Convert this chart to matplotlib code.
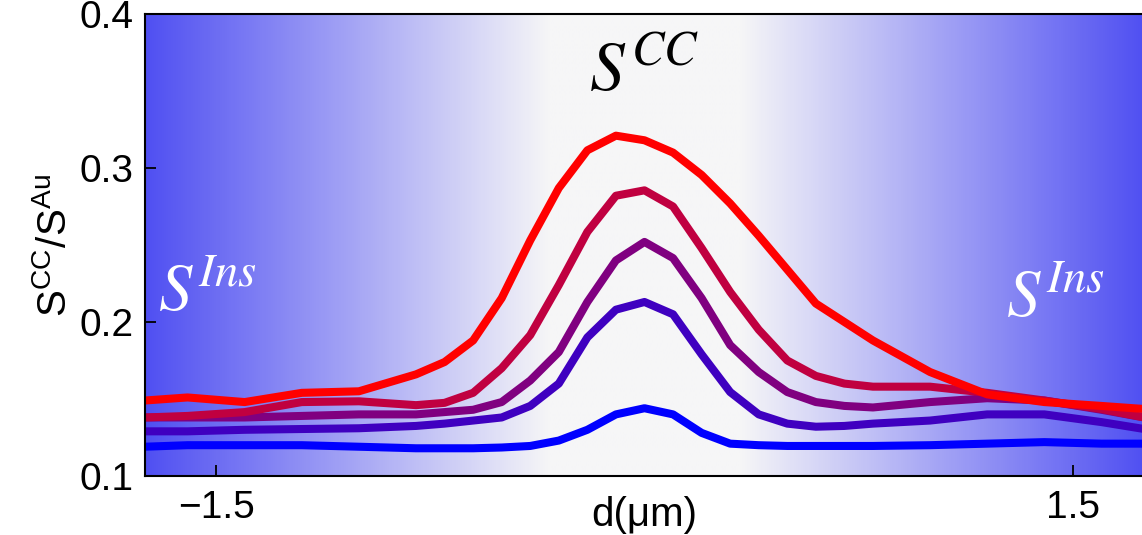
import matplotlib
matplotlib.use("Agg")
import matplotlib.pyplot as plt
import numpy as np
from matplotlib.colors import LinearSegmentedColormap

plt.rcParams['font.family'] = ['Liberation Sans', 'DejaVu Sans']
plt.rcParams['mathtext.fontset'] = 'custom'
plt.rcParams['mathtext.rm'] = 'STIXGeneral'
plt.rcParams['mathtext.it'] = 'STIXGeneral:italic'
plt.rcParams['mathtext.sf'] = 'Liberation Sans'

# position d (um)
d = [-1.75, -1.6, -1.4, -1.2, -1.0, -0.8, -0.7, -0.6, -0.5, -0.4, -0.3, -0.2, -0.1,
     0.0, 0.1, 0.2, 0.3, 0.4, 0.5, 0.6, 0.7, 0.8, 1.0, 1.2, 1.4, 1.6, 1.75]

# S^CC / S^Au, from lowest (blue) to highest (red)
s_blue = [0.119, 0.120, 0.120, 0.120, 0.119, 0.118, 0.118, 0.118, 0.1185, 0.1195, 0.123, 0.130, 0.140,
          0.144, 0.140, 0.128, 0.121, 0.120, 0.1195, 0.1195, 0.1195, 0.1195, 0.120, 0.121, 0.122, 0.121, 0.121]
s_indigo = [0.129, 0.129, 0.130, 0.1305, 0.131, 0.1325, 0.134, 0.136, 0.138, 0.1455, 0.160, 0.190, 0.208,
            0.213, 0.205, 0.179, 0.1545, 0.140, 0.134, 0.132, 0.1325, 0.134, 0.136, 0.140, 0.140, 0.135, 0.1305]
s_purple = [0.138, 0.138, 0.138, 0.139, 0.140, 0.140, 0.1415, 0.143, 0.148, 0.162, 0.1805, 0.213, 0.240,
            0.252, 0.2415, 0.2155, 0.185, 0.1675, 0.1545, 0.148, 0.1455, 0.1445, 0.148, 0.1505, 0.149, 0.143, 0.138]
s_crimson = [0.138, 0.139, 0.1415, 0.148, 0.1485, 0.146, 0.1475, 0.154, 0.170, 0.1915, 0.224, 0.2585, 0.282,
             0.2855, 0.275, 0.248, 0.2195, 0.195, 0.175, 0.165, 0.160, 0.158, 0.158, 0.154, 0.149, 0.1435, 0.138]
s_red = [0.149, 0.151, 0.148, 0.154, 0.155, 0.166, 0.174, 0.188, 0.2155, 0.253, 0.287, 0.3115, 0.321,
         0.318, 0.310, 0.2955, 0.277, 0.256, 0.234, 0.212, 0.200, 0.188, 0.1675, 0.153, 0.148, 0.1455, 0.1435]

series = [s_blue, s_indigo, s_purple, s_crimson, s_red]
colors = ['#0000ff', '#3f00c0', '#800080', '#c00040', '#ff0000']

fig = plt.figure(figsize=(11.42, 5.35), dpi=100)
ax = fig.add_axes([0.1267, 0.1103, 0.8733 + 0.002, 0.8635])

# background: white in the middle, blue towards the edges
xx = np.linspace(-1.75, 1.75, 700)
t = np.clip((np.abs(xx) - 0.33) / (1.75 - 0.33), 0, 1)
bg = LinearSegmentedColormap.from_list('bg', ['#f6f6f7', '#5050f2'])
ax.imshow(t[np.newaxis, :], aspect='auto', cmap=bg, vmin=0, vmax=1,
          extent=[-1.75, 1.75, 0.1, 0.4], origin='lower', zorder=0)

for s, c in zip(series, colors):
    ax.plot(d, s, color=c, lw=5.8, solid_joinstyle='round', zorder=2)

ax.set_xlim(-1.75, 1.75)
ax.set_ylim(0.1, 0.4)
ax.set_xticks([-1.5, 1.5])
ax.set_xticklabels(['\u22121.5', '1.5'])
ax.set_yticks([0.1, 0.2, 0.3, 0.4])
ax.set_yticklabels(['0.1', '0.2', '0.3', '0.4'])
ax.tick_params(direction='in', length=8, width=1.3, labelsize=28, pad=8)
ax.tick_params(axis='x', pad=10)
for sp in ax.spines.values():
    sp.set_linewidth(1.5)

fig.text(644 / 1142, 1 - 515 / 535, 'd(\u03bcm)', fontsize=29, ha='center', va='center')
ax.set_ylabel('S$^{\\mathsf{CC}}$/S$^{\\mathsf{Au}}$', fontsize=29, labelpad=4)

ax.text(0.0, 0.362, '$S^{CC}$', fontsize=50, ha='center', va='center', color='black')
ax.text(-1.53, 0.218, '$S^{Ins}$', fontsize=48, ha='center', va='center', color='white')
ax.text(1.44, 0.214, '$S^{Ins}$', fontsize=48, ha='center', va='center', color='white')

fig.savefig('out.png', dpi=100)
